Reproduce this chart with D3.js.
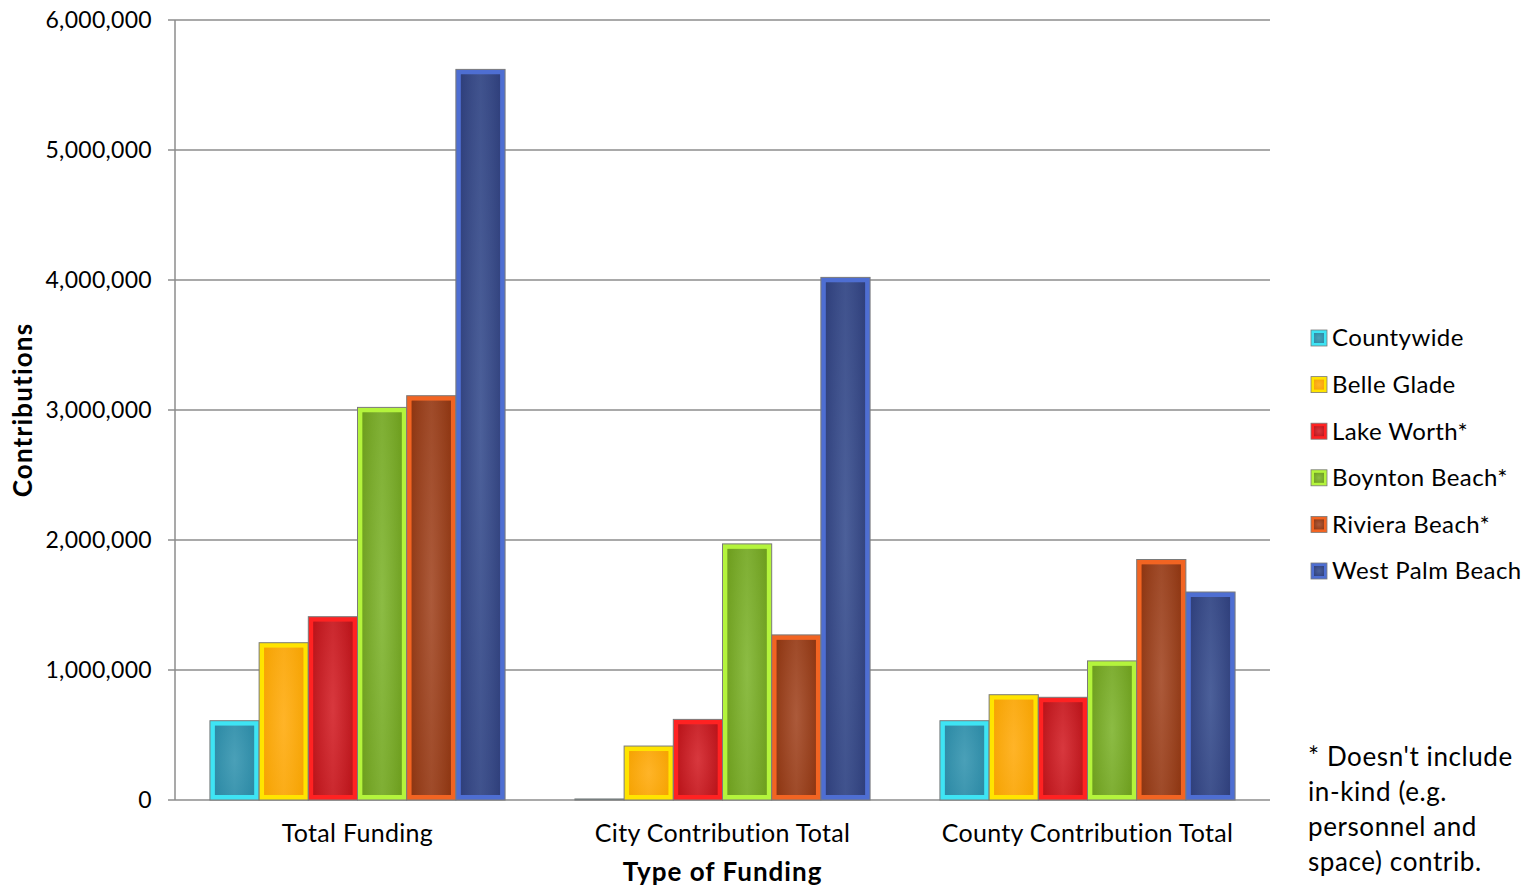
<!DOCTYPE html>
<html><head><meta charset="utf-8">
<script src="https://cdn.jsdelivr.net/npm/d3@7"></script>
<style>
html,body{margin:0;padding:0;background:#fff;}
svg{display:block;font-family:Lato,"Open Sans",sans-serif;}
</style></head>
<body>
<svg id="chart" width="1537" height="888"></svg>
<script>
const categories = ["Total Funding", "City Contribution Total", "County Contribution Total"];
const seriesNames = ["Countywide", "Belle Glade", "Lake Worth*", "Boynton Beach*", "Riviera Beach*", "West Palm Beach"];
const countywide    = [610000, 8000, 610000];
const belleGlade    = [1210000, 415000, 810000];
const lakeWorth     = [1410000, 620000, 790000];
const boyntonBeach  = [3020000, 1970000, 1070000];
const rivieraBeach  = [3110000, 1270000, 1850000];
const westPalmBeach = [5620000, 4020000, 1600000];
const seriesValues = [countywide, belleGlade, lakeWorth, boyntonBeach, rivieraBeach, westPalmBeach];
const yTicks = [0, 1000000, 2000000, 3000000, 4000000, 5000000, 6000000];
const footnote = ["* Doesn't include", "in-kind (e.g.", "personnel and", "space) contrib."];

const colors = [
  {edge:"#2a88a4", center:"#4aa0b8", bevel:"#3ee4f4"},
  {edge:"#f5a200", center:"#ffb428", bevel:"#ffe400"},
  {edge:"#b81218", center:"#d8383e", bevel:"#ff2222"},
  {edge:"#6c9c1c", center:"#8cbc44", bevel:"#b4f43c"},
  {edge:"#8c3410", center:"#ac5a3a", bevel:"#f26422"},
  {edge:"#2e3e7a", center:"#4c609a", bevel:"#4e6ed2"}
];

const svg = d3.select("#chart");
const mLeft = 175, mRight = 1270, mTop = 20, mBottom = 800;

const y = d3.scaleLinear().domain([0, 6000000]).range([mBottom, mTop]);
const x0 = d3.scaleBand().domain(categories).range([mLeft, mRight]).padding(0);
const x1 = d3.scaleBand().domain(seriesNames).range([0, x0.bandwidth()]).paddingInner(0).paddingOuter(0.71);

const defs = svg.append("defs");
colors.forEach((c, i) => {
  const g = defs.append("radialGradient").attr("id", "g" + i)
    .attr("cx", "50%").attr("cy", "50%").attr("r", "75%");
  g.append("stop").attr("offset", "0%").attr("stop-color", c.center);
  g.append("stop").attr("offset", "100%").attr("stop-color", c.edge);
  const lg = defs.append("linearGradient").attr("id", "l" + i).attr("x1", "0").attr("x2", "1").attr("y1", "0").attr("y2", "0");
  lg.append("stop").attr("offset", "0%").attr("stop-color", c.edge);
  lg.append("stop").attr("offset", "50%").attr("stop-color", c.center);
  lg.append("stop").attr("offset", "100%").attr("stop-color", c.edge);
});

// gridlines
svg.append("g").selectAll("line").data(yTicks).join("line")
  .attr("x1", mLeft - 7).attr("x2", mRight)
  .attr("y1", d => y(d)).attr("y2", d => y(d))
  .attr("stroke", "#8c8c8c").attr("stroke-width", 1.5);
// y axis line
svg.append("line").attr("x1", mLeft).attr("x2", mLeft).attr("y1", mTop).attr("y2", mBottom)
  .attr("stroke", "#8c8c8c").attr("stroke-width", 1.5);

// tick labels
const fmt = d3.format(",");
svg.append("g").selectAll("text").data(yTicks).join("text")
  .attr("x", 152).attr("y", d => y(d)).attr("dy", "0.35em")
  .attr("text-anchor", "end").attr("font-size", 23).attr("letter-spacing", 0.3).attr("fill", "#000")
  .text(d => fmt(d));

// bars
const groups = svg.append("g").selectAll("g").data(categories).join("g")
  .attr("transform", d => `translate(${x0(d)},0)`);
groups.each(function(cat, ci) {
  const g = d3.select(this);
  seriesNames.forEach((s, si) => {
    const v = seriesValues[si][ci];
    const bx = x1(s), bw = x1.bandwidth();
    const by = y(v), bh = mBottom - y(v);
    const c = colors[si];
    g.append("rect").attr("x", bx).attr("y", by).attr("width", bw).attr("height", bh)
      .attr("fill", c.bevel).attr("stroke", "#7a7a7a").attr("stroke-width", 1);
    const inset = Math.min(5, bh / 2);
    if (bh > 2) {
      g.append("rect").attr("x", bx + inset).attr("y", by + inset)
        .attr("width", Math.max(0, bw - 2 * inset)).attr("height", Math.max(0, bh - 2 * inset))
        .attr("fill", `url(#l${si})`);
      g.append("rect").attr("x", bx + inset).attr("y", by + inset)
        .attr("width", Math.max(0, bw - 2 * inset)).attr("height", Math.max(0, bh - 2 * inset))
        .attr("fill", `url(#g${si})`).attr("opacity", 0.6);
    }
  });
});

// category labels
svg.append("g").selectAll("text").data(categories).join("text")
  .attr("x", d => x0(d) + x0.bandwidth() / 2).attr("y", 833).attr("dy", "0.35em")
  .attr("text-anchor", "middle").attr("font-size", 25).attr("letter-spacing", 0.3).attr("fill", "#000")
  .text(d => d);

// axis titles
svg.append("text").attr("x", (mLeft + mRight) / 2).attr("y", 872).attr("dy", "0.35em")
  .attr("text-anchor", "middle").attr("font-size", 26).attr("letter-spacing", 1).attr("font-weight", "bold").text("Type of Funding");
svg.append("text").attr("transform", "translate(23,410) rotate(-90)").attr("dy", "0.35em")
  .attr("text-anchor", "middle").attr("font-size", 26).attr("letter-spacing", 1.2).attr("font-weight", "bold").text("Contributions");

// legend
const leg = svg.append("g").selectAll("g").data(seriesNames).join("g")
  .attr("transform", (d, i) => `translate(1311,${338 + i * 46.6})`);
leg.append("rect").attr("x", 0).attr("y", -8).attr("width", 16).attr("height", 16)
  .attr("fill", (d, i) => colors[i].bevel).attr("stroke", "#7a7a7a").attr("stroke-width", 0.8);
leg.append("rect").attr("x", 3).attr("y", -5).attr("width", 10).attr("height", 10)
  .attr("fill", (d, i) => `url(#g${i})`);
leg.append("text").attr("x", 21).attr("dy", "0.35em").attr("font-size", 24).attr("letter-spacing", 0.4).text(d => d);

// footnote
svg.append("g").selectAll("text").data(footnote).join("text")
  .attr("x", 1308).attr("y", (d, i) => 757 + i * 35).attr("dy", "0.35em")
  .attr("font-size", 26).attr("letter-spacing", 0.6).text(d => d);
</script>
</body></html>
